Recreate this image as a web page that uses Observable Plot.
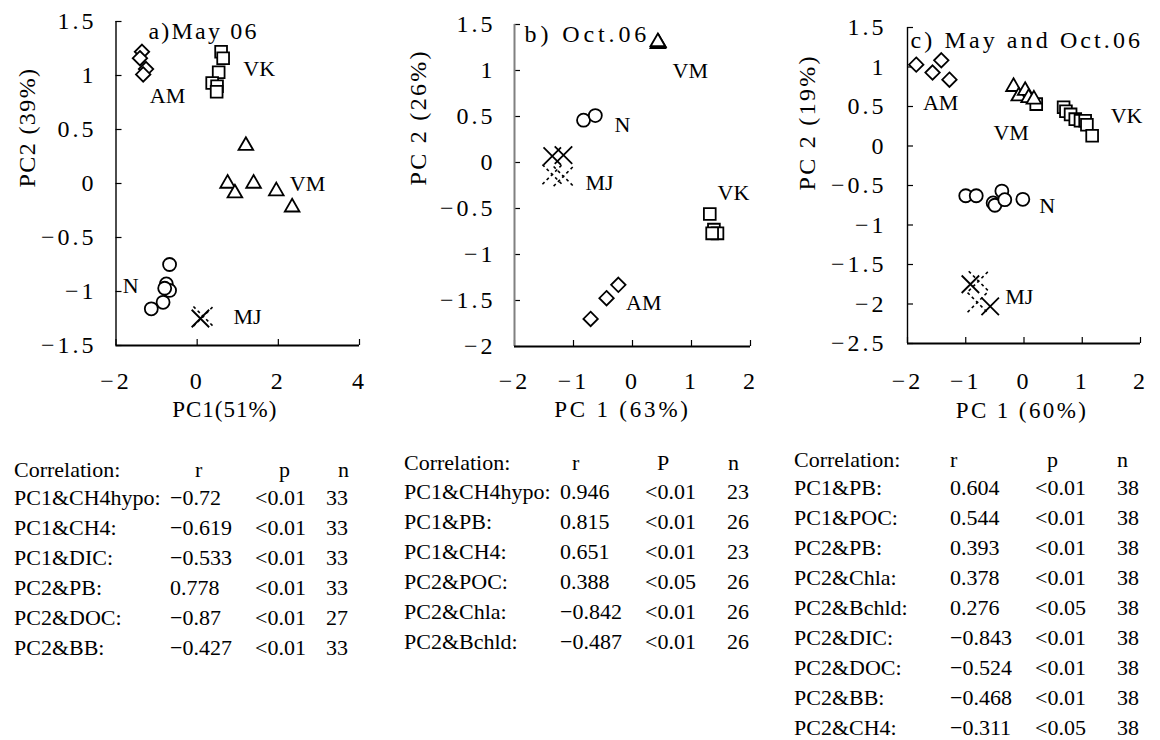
<!DOCTYPE html>
<html>
<head>
<meta charset="utf-8">
<script src="https://cdn.jsdelivr.net/npm/d3@7"></script>
<script src="https://cdn.jsdelivr.net/npm/@observablehq/plot@0.6"></script>
<style>
  body { margin: 0; background: #fff; }
  #root { position: relative; width: 1160px; height: 740px; overflow: hidden; font-family: "Liberation Serif", serif; color: #000; }
  .panel { position: absolute; top: 0; }
  .tbl { position: absolute; left: 0; top: 0; font-size: 22px; white-space: nowrap; }
  .tbl span { position: absolute; line-height: 30px; }
</style>
</head>
<body>
<div id="root"></div>
<script>
// ---------- Panel a) May 06 ----------
const aAM = [[-1.36, 1.22], [-1.41, 1.16], [-1.26, 1.06], [-1.33, 1.01]];
const aVK = [[0.59, 1.22], [0.64, 1.16], [0.53, 1.03], [0.37, 0.93], [0.49, 0.9], [0.48, 0.85]];
const aVM = [[1.2, 0.35], [0.75, 0.0], [0.93, -0.09], [1.39, 0.0], [1.95, -0.07], [2.34, -0.22]];
const aN  = [[-0.68, -0.75], [-0.76, -0.93], [-0.68, -0.99], [-0.8, -0.97], [-0.84, -1.1], [-1.13, -1.16]];
const aMJ = [[0.08, -1.25]];
const aMJdash = [[0.15, -1.23]];
const aLabels = [
  {name: "AM", x: -0.73, y: 0.81}, {name: "VK", x: 1.53, y: 1.06}, {name: "VM", x: 2.72, y: 0.0},
  {name: "N", x: -1.64, y: -0.95}, {name: "MJ", x: 1.24, y: -1.24}
];
const aXTicks = [-2, 0, 2, 4];
const aYTicks = [-1.5, -1, -0.5, 0, 0.5, 1, 1.5];

// ---------- Panel b) Oct.06 ----------
const bVM = [[0.43, 1.29], [0.44, 1.3], [0.43, 1.31]];
const bN  = [[-0.83, 0.46], [-0.63, 0.51]];
const bMJ = [[-1.36, 0.07], [-1.17, 0.08]];
const bMJdash = [[-1.36, -0.13], [-1.17, -0.15]];
const bVK = [[1.31, -0.56], [1.38, -0.73], [1.44, -0.77], [1.35, -0.77]];
const bAM = [[-0.71, -1.7], [-0.44, -1.475], [-0.24, -1.33]];
const bLabels = [
  {name: "VM", x: 0.98, y: 1.0}, {name: "N", x: -0.17, y: 0.41}, {name: "MJ", x: -0.56, y: -0.22},
  {name: "VK", x: 1.71, y: -0.33}, {name: "AM", x: 0.19, y: -1.53}
];
const bXTicks = [-2, -1, 0, 1, 2];
const bYTicks = [-2, -1.5, -1, -0.5, 0, 0.5, 1, 1.5];

// ---------- Panel c) May and Oct.06 ----------
const cAM = [[-1.85, 1.03], [-1.57, 0.93], [-1.42, 1.085], [-1.28, 0.84]];
const cVM = [[-0.18, 0.75], [-0.09, 0.63], [0.02, 0.7], [0.08, 0.61], [0.17, 0.59]];
const cVK = [[0.21, 0.53], [0.68, 0.49], [0.72, 0.44], [0.8, 0.4], [0.88, 0.34], [0.97, 0.32], [1.05, 0.32], [1.08, 0.27], [1.17, 0.13]];
const cN  = [[-1.0, -0.63], [-0.82, -0.63], [-0.53, -0.72], [-0.5, -0.75], [-0.38, -0.57], [-0.33, -0.68], [-0.02, -0.675]];
const cMJ = [[-0.92, -1.75], [-0.58, -2.03]];
const cMJdash = [[-0.78, -1.71], [-0.8, -1.98]];
const cLabels = [
  {name: "AM", x: -1.43, y: 0.54}, {name: "VM", x: -0.22, y: 0.16}, {name: "VK", x: 1.76, y: 0.38},
  {name: "N", x: 0.4, y: -0.76}, {name: "MJ", x: -0.08, y: -1.91}
];
const cXTicks = [-2, -1, 0, 1, 2];
const cYTicks = [-2.5, -2, -1.5, -1, -0.5, 0, 0.5, 1, 1.5];

// ---------- Correlation tables ----------
const tHeadA = ["Correlation:", "r", "p", "n"];
const tVarA = ["PC1&CH4hypo:", "PC1&CH4:", "PC1&DIC:", "PC2&PB:", "PC2&DOC:", "PC2&BB:"];
const tRA = [-0.72, -0.619, -0.533, 0.778, -0.87, -0.427];
const tPA = ["<0.01", "<0.01", "<0.01", "<0.01", "<0.01", "<0.01"];
const tNA = [33, 33, 33, 33, 27, 33];

const tHeadB = ["Correlation:", "r", "P", "n"];
const tVarB = ["PC1&CH4hypo:", "PC1&PB:", "PC1&CH4:", "PC2&POC:", "PC2&Chla:", "PC2&Bchld:"];
const tRB = [0.946, 0.815, 0.651, 0.388, -0.842, -0.487];
const tPB = ["<0.01", "<0.01", "<0.01", "<0.05", "<0.01", "<0.01"];
const tNB = [23, 26, 23, 26, 26, 26];

const tHeadC = ["Correlation:", "r", "p", "n"];
const tVarC = ["PC1&PB:", "PC1&POC:", "PC2&PB:", "PC2&Chla:", "PC2&Bchld:", "PC2&DIC:", "PC2&DOC:", "PC2&BB:", "PC2&CH4:"];
const tRC = [0.604, 0.544, 0.393, 0.378, 0.276, -0.843, -0.524, -0.468, -0.311];
const tPC = ["<0.01", "<0.01", "<0.01", "<0.01", "<0.05", "<0.01", "<0.01", "<0.01", "<0.05"];
const tNC = [38, 38, 38, 38, 38, 38, 38, 38, 38];

// ---------- drawing ----------
const root = document.getElementById("root");
const fmt = d => (d < 0 ? "\u2212" : "") + Math.abs(d);

function spacing(svg, texts, ls) {
  d3.select(svg).selectAll("text")
    .filter(function () { return texts.includes(this.textContent); })
    .style("letter-spacing", ls + "px");
}

function makePanel(p, L) {
  const fw = L.width - L.ml - L.mr, fh = L.height - L.mt - L.mb;
  const dot = (data, symbol, r, extra = {}) => Plot.dot(data, {
    x: d => d[0], y: d => d[1], symbol, r, stroke: "#000", fill: "#fff", strokeWidth: 1.8, ...extra
  });
  const svg = Plot.plot({
    width: L.width, height: L.height,
    marginLeft: L.ml, marginRight: L.mr, marginTop: L.mt, marginBottom: L.mb,
    style: {fontFamily: '"Liberation Serif", serif', fontSize: "24px", background: "transparent", overflow: "visible", color: "#000"},
    x: {domain: p.xDomain}, y: {domain: p.yDomain},
    marks: [
      Plot.axisY({ticks: p.yTicks, tickSize: 0, tickPadding: L.yPad, tickFormat: fmt, label: null, fontSize: 24}),
      Plot.axisX({ticks: p.xTicks, tickSize: 0, tickPadding: L.xPad, tickFormat: fmt, label: null, fontSize: 24}),
      Plot.tickY(p.yTicks, {y: d => d, insetRight: fw - 6, stroke: "#000", strokeWidth: 1.2}),
      Plot.tickX(p.xTicks, {x: d => d, insetTop: fh - 6, stroke: "#000", strokeWidth: 1.2}),
      Plot.ruleX([p.xDomain[0]], {stroke: L.yAxisColor, strokeWidth: L.yAxisWidth}),
      Plot.ruleY([p.yDomain[0]], {stroke: "#000", strokeWidth: 1.8}),
      dot(p.AM, "diamond2", 6.5),
      dot(p.VK, "square2", 7.5),
      dot(p.VM, "triangle2", 7),
      dot(p.N, "circle", 6.5),
      dot(p.MJdash, "times", 9, {fill: "none", strokeWidth: 1.6, strokeDasharray: "3,3"}),
      dot(p.MJ, "times", 8, {fill: "none", strokeWidth: 1.8}),
      Plot.text(p.labels, {x: "x", y: "y", text: "name", fontSize: 22, fill: "#000"}),
      Plot.text([p.title], {text: d => d, frameAnchor: "top-left", textAnchor: "start", dx: L.titleDx, dy: L.titleDy, fontSize: 24, fill: "#000"}),
      Plot.text([p.yLabel], {text: d => d, frameAnchor: "left", rotate: -90, dx: L.yTitleDx, dy: L.yTitleDy, fontSize: 24, fill: "#000"}),
      Plot.text([p.xLabel], {text: d => d, frameAnchor: "bottom", dx: L.xTitleDx, dy: L.xTitleDy, fontSize: 23, fill: "#000"})
    ]
  });
  spacing(svg, p.yTicks.map(fmt).concat(p.xTicks.map(fmt)), 3);
  spacing(svg, [p.title], L.titleLs);
  spacing(svg, [p.yLabel], L.yTitleLs);
  spacing(svg, [p.xLabel], L.xTitleLs);
  const div = document.createElement("div");
  div.className = "panel";
  div.style.left = L.left + "px";
  div.appendChild(svg);
  root.appendChild(div);
}

makePanel(
  {xDomain: [-2, 4], yDomain: [-1.5, 1.5], xTicks: aXTicks, yTicks: aYTicks,
   AM: aAM, VK: aVK, VM: aVM, N: aN, MJ: aMJ, MJdash: aMJdash, labels: aLabels,
   title: "a)May 06", xLabel: "PC1(51%)", yLabel: "PC2 (39%)"},
  {left: 0, width: 385, height: 430, ml: 115.5, mr: 26, mt: 21, mb: 85, yPad: 19.5, xPad: 26,
   yAxisColor: "#000", yAxisWidth: 1.4,
   titleDx: 32.5, titleDy: 0, titleLs: 2.2,
   yTitleDx: -88.5, yTitleDy: 4, yTitleLs: 1.4,
   xTitleDx: -13, xTitleDy: 71, xTitleLs: 1}
);
makePanel(
  {xDomain: [-2, 2], yDomain: [-2, 1.5], xTicks: bXTicks, yTicks: bYTicks,
   AM: bAM, VK: bVK, VM: bVM, N: bN, MJ: bMJ, MJdash: bMJdash, labels: bLabels,
   title: "b) Oct.06", xLabel: "PC 1 (63%)", yLabel: "PC 2 (26%)"},
  {left: 385, width: 385, height: 430, ml: 129, mr: 20, mt: 24, mb: 84, yPad: 19, xPad: 25,
   yAxisColor: "#808080", yAxisWidth: 2,
   titleDx: 10, titleDy: 0, titleLs: 3.9,
   yTitleDx: -96, yTitleDy: 0, yTitleLs: 2.3,
   xTitleDx: -10, xTitleDy: 70, xTitleLs: 2.8}
);
makePanel(
  {xDomain: [-2, 2], yDomain: [-2.5, 1.5], xTicks: cXTicks, yTicks: cYTicks,
   AM: cAM, VK: cVK, VM: cVM, N: cN, MJ: cMJ, MJdash: cMJdash, labels: cLabels,
   title: "c) May and Oct.06", xLabel: "PC 1 (60%)", yLabel: "PC 2 (19%)"},
  {left: 770, width: 390, height: 430, ml: 137, mr: 20, mt: 27, mb: 87, yPad: 21, xPad: 28,
   yAxisColor: "#000", yAxisWidth: 1.4,
   titleDx: 3, titleDy: 3, titleLs: 3.1,
   yTitleDx: -100, yTitleDy: 5, yTitleLs: 2.3,
   xTitleDx: -2, xTitleDy: 74, xTitleLs: 2.4}
);

function makeTable(head, vars, rs, ps, ns, L) {
  const t = document.createElement("div");
  t.className = "tbl";
  const put = (text, x, yc) => {
    const s = document.createElement("span");
    s.textContent = text;
    s.style.left = x + "px";
    s.style.top = (yc - 15) + "px";
    t.appendChild(s);
  };
  head.forEach((h, i) => put(h, L.headX[i], L.headY));
  vars.forEach((v, k) => {
    const yc = L.rowY + k * 30;
    put(v, L.colX[0], yc);
    put(fmt(rs[k]), L.colX[1], yc);
    put(ps[k], L.colX[2], yc);
    put(String(ns[k]), L.colX[3], yc);
  });
  root.appendChild(t);
}

makeTable(tHeadA, tVarA, tRA, tPA, tNA, {headX: [14, 195, 279, 338], headY: 470, colX: [14, 170, 255, 326], rowY: 498});
makeTable(tHeadB, tVarB, tRB, tPB, tNB, {headX: [404, 572, 657, 728], headY: 463, colX: [404, 560, 645, 727], rowY: 492});
makeTable(tHeadC, tVarC, tRC, tPC, tNC, {headX: [794, 950, 1047, 1117], headY: 460, colX: [794, 950, 1035, 1117], rowY: 488});
</script>
</body>
</html>
